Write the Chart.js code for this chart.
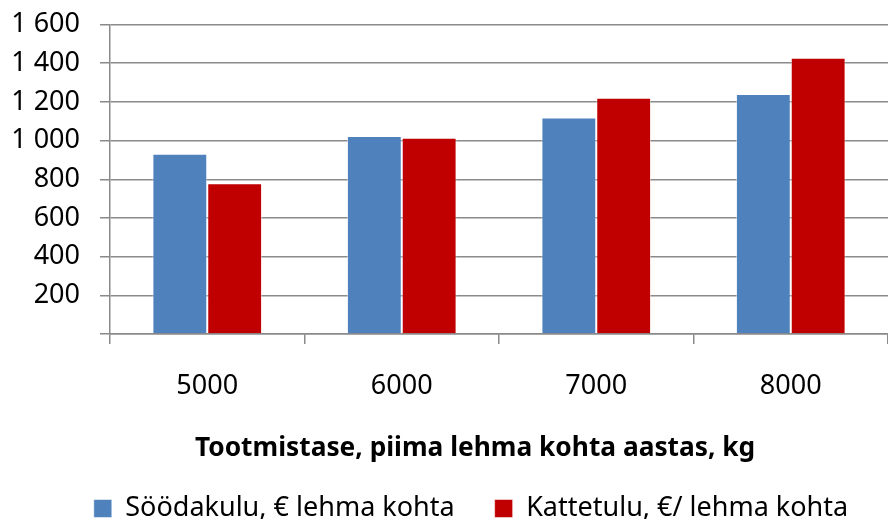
<!DOCTYPE html>
<html>
<head>
<meta charset="utf-8">
<script src="https://cdn.jsdelivr.net/npm/chart.js@4.4.1/dist/chart.umd.min.js"></script>
<style>
  html, body { margin: 0; padding: 0; background: #fff; }
  #wrap { width: 888px; height: 519px; }
</style>
</head>
<body>
<div id="wrap"><canvas id="chart" width="888" height="519"></canvas></div>
<script>
const categories = ['5000', '6000', '7000', '8000'];
const feedCost = [932, 1024, 1119, 1241];      // Söödakulu
const grossMargin = [779, 1015, 1221, 1428];   // Kattetulu
const seriesNames = ['Söödakulu, € lehma kohta', 'Kattetulu, €/ lehma kohta'];
const yTicks = [0, 200, 400, 600, 800, 1000, 1200, 1400, 1600];
const xTitle = 'Tootmistase, piima lehma kohta aastas, kg';

const FONT = 'Noto Sans';
const GRID = '#8a8a8a';

function spaced(v) {
    if (v === 0) return '';
    return String(v).replace(/\B(?=(\d{3})+(?!\d))/g, ' ');
}

// legend sits a bit right of centre and low in the original
const legendNudge = {
    id: 'legendNudge',
    afterLayout(chart) {
        const lg = chart.legend;
        const h = lg.bottom - lg.top;
        lg.left += 27; lg.right += 27;
        lg.top = 455; lg.bottom = 455 + h;
    }
};

const ctx = document.getElementById('chart').getContext('2d');
new Chart(ctx, {
    type: 'bar',
    data: {
        labels: categories,
        datasets: [
            {
                label: seriesNames[0],
                data: feedCost,
                backgroundColor: '#4F81BD',
                borderColor: 'rgba(255,255,255,0.5)',
                borderWidth: 1,
                barPercentage: 1,
                categoryPercentage: 0.564
            },
            {
                label: seriesNames[1],
                data: grossMargin,
                backgroundColor: '#C00000',
                borderColor: 'rgba(255,255,255,0.5)',
                borderWidth: 1,
                barPercentage: 1,
                categoryPercentage: 0.564
            }
        ]
    },
    plugins: [legendNudge],
    options: {
        responsive: false,
        animation: false,
        layout: { padding: { left: 0, right: 0, top: 24.5, bottom: -22 } },
        plugins: {
            tooltip: { enabled: false },
            legend: {
                position: 'bottom',
                labels: {
                    color: '#000',
                    font: { family: FONT, size: 27 },
                    boxWidth: 18,
                    boxHeight: 18,
                    padding: 40
                }
            }
        },
        scales: {
            x: {
                afterFit: s => { s.height = 130; },
                grid: {
                    offset: true,
                    drawOnChartArea: false,
                    drawTicks: true,
                    tickLength: 10,
                    color: GRID,
                    lineWidth: 1.5
                },
                border: { display: true, color: GRID, width: 1.5 },
                ticks: {
                    color: '#000',
                    padding: 26,
                    font: { family: FONT, size: 27 }
                },
                title: {
                    display: true,
                    text: xTitle + '\u00A0\u00A0\u00A0\u00A0\u00A0\u00A0\u00A0',
                    color: '#000',
                    font: { family: FONT, size: 26.3, weight: 'bold' },
                    padding: { top: 0, bottom: 0 }
                }
            },
            y: {
                min: 0,
                max: 1600,
                afterFit: s => { s.width = 110; s.paddingTop = 0; s.paddingBottom = 0; },
                afterBuildTicks: s => { s.ticks = yTicks.map(v => ({ value: v })); },
                grid: {
                    color: GRID,
                    lineWidth: 1.5,
                    tickLength: 10
                },
                border: { display: true, color: GRID, width: 1.5 },
                ticks: {
                    autoSkip: false,
                    color: '#000',
                    padding: 20,
                    font: { family: FONT, size: 27 },
                    callback: v => spaced(v)
                }
            }
        }
    }
});
</script>
</body>
</html>
